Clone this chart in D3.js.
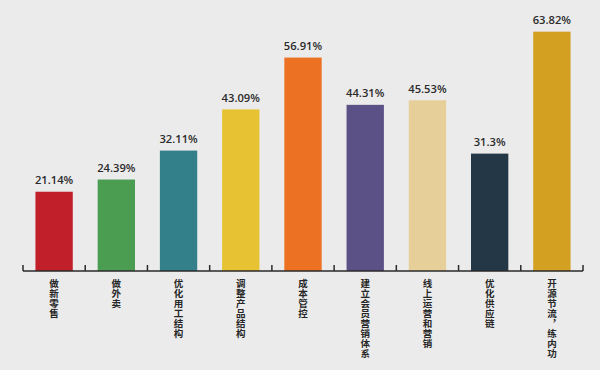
<!DOCTYPE html>
<html><head><meta charset="utf-8">
<script src="https://cdn.jsdelivr.net/npm/d3@7"></script>
<style>html,body{margin:0;padding:0;background:#ebebeb;}svg{display:block;}</style>
</head><body>
<svg id="c" width="600" height="370"></svg>
<script>
const categories = ["做新零售","做外卖","优化用工结构","调整产品结构","成本管控","建立会员营销体系","线上运营和营销","优化供应链","开源节流︐练内功"];
const values = [21.14, 24.39, 32.11, 43.09, 56.91, 44.31, 45.53, 31.3, 63.82];
const valueLabels = ["21.14%","24.39%","32.11%","43.09%","56.91%","44.31%","45.53%","31.3%","63.82%"];
const colors = ["#c1202b","#4b9d51","#33808a","#e7c333","#ec7122","#5b5186","#e7cf9a","#243746","#d3a022"];

const svg = d3.select("#c");
svg.append("rect").attr("width",600).attr("height",370).attr("fill","#ebebeb");

const x = d3.scaleBand().domain(categories).range([23, 583]).padding(0);
const y = d3.scaleLinear().domain([0, 70]).range([271, 8.5]);
const bw = x.step() * 0.6;

const g = svg.append("g");
g.selectAll("rect.bar").data(categories).join("rect")
  .attr("class","bar")
  .attr("x", (d) => x(d) + x.bandwidth()/2 - bw/2)
  .attr("width", bw)
  .attr("y", (d,i) => y(values[i]))
  .attr("height", (d,i) => y(0) - y(values[i]))
  .attr("fill", (d,i) => colors[i]);

g.selectAll("text.val").data(categories).join("text")
  .attr("class","val")
  .attr("x", (d) => x(d) + x.bandwidth()/2)
  .attr("y", (d,i) => y(values[i]) - 7.5)
  .attr("text-anchor","middle")
  .attr("font-family","'Open Sans', sans-serif")
  .attr("font-weight",600)
  .attr("font-size",11.2)
  .attr("fill","#2b2b2b")
  .text((d,i) => valueLabels[i]);

// axis
const tickPos = categories.map(d => x(d)).concat([x.range()[1]]);
g.append("line").attr("x1",x.range()[0]).attr("x2",x.range()[1])
  .attr("y1",y(0)).attr("y2",y(0)).attr("stroke","#2a2a2a").attr("stroke-width",1.5);
g.selectAll("line.tick").data(tickPos).join("line")
  .attr("class","tick")
  .attr("x1",d=>d).attr("x2",d=>d)
  .attr("y1",y(0)).attr("y2",y(0)-6)
  .attr("stroke","#2a2a2a").attr("stroke-width",1.5);

// vertical category labels (one character per line)
categories.forEach((c) => {
  const chars = Array.from(c);
  const t = g.append("text")
    .attr("text-anchor","middle")
    .attr("font-family","'Noto Sans CJK SC', sans-serif")
    .attr("font-weight",700)
    .attr("font-size",9.5)
    .attr("fill","#262626");
  chars.forEach((ch, k) => {
    t.append("tspan")
      .attr("x", x(c) + x.bandwidth()/2)
      .attr("y", y(0) + 16.3 + k*10)
      .text(ch);
  });
});
</script>
</body></html>
